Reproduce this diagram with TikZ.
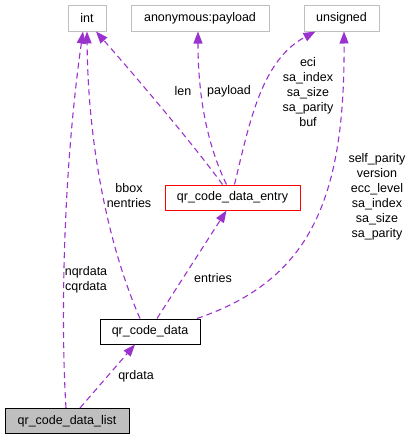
\documentclass[tikz,border=0pt]{standalone}
\usepackage{fontspec}
\setmainfont{Liberation Sans}
\usetikzlibrary{arrows.meta}
\definecolor{edgecolor}{RGB}{154,50,205}
\definecolor{typecolor}{RGB}{191,191,191}
\definecolor{curcolor}{RGB}{191,191,191}

\begin{document}
\begin{tikzpicture}[
    x=1pt, y=-1pt,
    font=\fontsize{12.5}{15}\selectfont,
    typebox/.style={draw=typecolor, line width=1pt, inner sep=0pt,
       minimum height=26pt},
    structbox/.style={draw=black, line width=1pt, inner sep=0pt,
       minimum height=25pt},
    entrybox/.style={draw=red, line width=1pt, inner sep=0pt,
       minimum height=25pt},
    curbox/.style={structbox, fill=curcolor},
    member/.style={draw=edgecolor, line width=1.1pt,
       dash pattern=on 6pt off 4pt,
       -{Triangle[length=12pt, width=9pt, fill=edgecolor]}},
    lbl/.style={align=center, inner sep=0pt}
  ]
    \useasboundingbox (0,0) rectangle (414,440);

    % Type nodes
    \node[typebox, minimum width=38pt]  (int) at (87,18)  {int};
    \node[typebox, minimum width=138pt] (anon) at (200,18) {anonymous:payload};
    \node[typebox, minimum width=75pt]  (uns) at (341.5,18) {unsigned};

    % Struct nodes
    \node[entrybox, minimum width=135pt] (entry) at (232.5,197.5) {qr\_code\_data\_entry};
    \node[structbox, minimum width=100pt] (data) at (150,331.5) {qr\_code\_data};
    \node[curbox, minimum width=124pt] (list) at (67,421) {qr\_code\_data\_list};

    % Member edges
    \draw[member] ([xshift=-1pt]list.north) .. controls (61,330) and (62,180) .. ([xshift=-4pt]int.south);
    \draw[member] ([xshift=-10pt]data.north) .. controls (110,250) and (88,150) .. (int.south);
    \draw[member] ([xshift=-10pt]entry.north) .. controls (190,140) and (130,70) .. ([xshift=9pt]int.south);
    \draw[member] ([xshift=-6pt]entry.north) .. controls (205,140) and (198,90) .. ([xshift=-2pt]anon.south);
    \draw[member] ([xshift=2pt]entry.north) .. controls (250,120) and (262,60) .. ([xshift=-26pt]uns.south);
    \draw[member] ([xshift=47pt]data.north) .. controls (310,280) and (345,200) .. ([xshift=2.5pt]uns.south);
    \draw[member] ([xshift=7pt]data.north) -- ([xshift=-6pt]entry.south);
    \draw[member] ([xshift=13pt]list.north) -- ([xshift=-15pt]data.south);

    % Member labels
    \node[lbl] (lnq) at (86,280) {nqrdata\\cqrdata};
    \node[lbl] (lbb) at (129,195.5) {bbox\\nentries};
    \node[lbl] (llen) at (183,91) {len};
    \node[lbl] (lpay) at (229,91) {payload};
    \node[lbl] (leci) at (308,92) {eci\\sa\_index\\sa\_size\\sa\_parity\\buf};
    \node[lbl] (lself) at (377,196.5) {self\_parity\\version\\ecc\_level\\sa\_index\\sa\_size\\sa\_parity};
    \node[lbl] (lent) at (213,278) {entries};
    \node[lbl] (lqr) at (136,376) {qrdata};
  \end{tikzpicture}
\end{document}
